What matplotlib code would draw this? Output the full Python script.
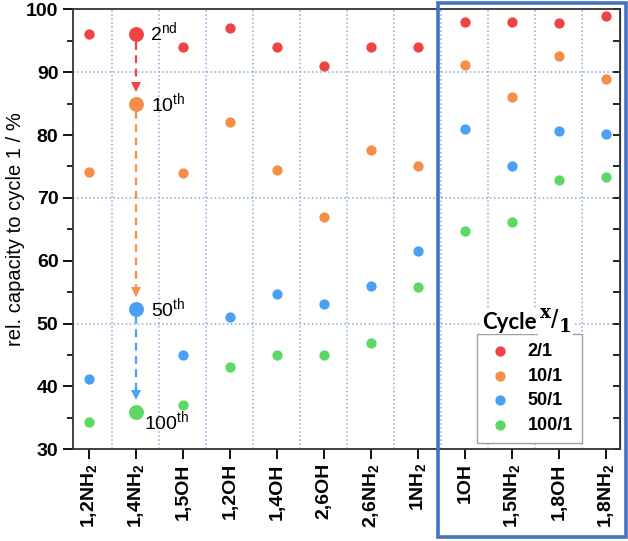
import matplotlib
matplotlib.use('Agg')
import matplotlib.pyplot as plt
from matplotlib.patches import Rectangle
from matplotlib.ticker import MultipleLocator
import numpy as np

plt.rcParams['font.family'] = ['Liberation Sans', 'DejaVu Sans']
plt.rcParams['mathtext.fontset'] = 'custom'
plt.rcParams['mathtext.rm'] = 'Liberation Sans'
plt.rcParams['mathtext.bf'] = 'Liberation Sans:bold'
plt.rcParams['mathtext.default'] = 'regular'

# data
samples = ['1,2NH$\\mathbf{_2}$', '1,4NH$\\mathbf{_2}$', '1,5OH', '1,2OH', '1,4OH', '2,6OH',
           '2,6NH$\\mathbf{_2}$', '1NH$\\mathbf{_2}$', '1OH', '1,5NH$\\mathbf{_2}$', '1,8OH',
           '1,8NH$\\mathbf{_2}$']
cycle2 = [96.0, 96.0, 94.0, 97.0, 94.0, 91.0, 94.0, 94.0, 98.0, 98.0, 97.9, 99.0]
cycle10 = [74.1, 85.0, 74.0, 82.0, 74.4, 67.0, 77.6, 75.1, 91.1, 86.0, 92.6, 88.9]
cycle50 = [41.2, 52.4, 45.0, 51.1, 54.7, 53.1, 56.0, 61.6, 80.9, 75.0, 80.7, 80.2]
cycle100 = [34.4, 35.9, 37.1, 43.1, 45.0, 45.0, 46.9, 55.8, 64.7, 66.1, 72.9, 73.3]
labels = ['2/1', '10/1', '50/1', '100/1']
ordinals = ['2$^{nd}$', '10$^{th}$', '50$^{th}$', '100$^{th}$']
colors = ['#F04343', '#F58F48', '#4AA0F4', '#5DD865']

series = [cycle2, cycle10, cycle50, cycle100]
hl = 1  # highlighted sample (1,4NH2)

fig = plt.figure(figsize=(6.28, 5.41), dpi=100)
ax = fig.add_axes([0.1162, 0.1695, 0.8710, 0.8133])

x = np.arange(len(samples))
for vals, c, lab in zip(series, colors, labels):
    ax.scatter(x, vals, s=55, color=c, label=lab, zorder=3, linewidths=0)
    ax.scatter([hl], [vals[hl]], s=115, color=c, zorder=4, linewidths=0)

# dashed arrows between cycles of the highlighted sample
for k in range(3):
    y0 = series[k][hl]
    y1 = series[k + 1][hl]
    ax.plot([hl, hl], [y0 - 1.2, y1 + 3.0], ls=(0, (3.5, 2.5)), color=colors[k], lw=1.6, zorder=2)
    ax.plot(hl, y1 + 2.7, marker='v', ms=7.5, color=colors[k], mew=0, zorder=2)

offs = [(0.30, 0.4), (0.33, 0.0), (0.33, 0.0), (0.18, -1.4)]
for k, (dx, dy) in enumerate(offs):
    ax.text(hl + dx, series[k][hl] + dy, ordinals[k], fontsize=14, va='center', ha='left', zorder=5)

ax.set_xlim(-0.34, 11.30)
ax.set_ylim(30, 100)
ax.set_xticks(x)
ax.set_xticklabels(samples, rotation=90, fontsize=14, fontweight='bold')
ax.yaxis.set_major_locator(MultipleLocator(10))
ax.yaxis.set_minor_locator(MultipleLocator(5))
ax.xaxis.set_minor_locator(MultipleLocator(1, offset=0.5))
for lab in ax.get_yticklabels():
    lab.set_fontweight('bold')
ax.tick_params(axis='y', which='major', labelsize=14, direction='out', length=7, width=1.3)
ax.tick_params(axis='y', which='minor', direction='out', length=4, width=1.2)
ax.tick_params(axis='x', which='major', direction='out', length=7, width=1.3, pad=3)
ax.tick_params(axis='x', which='minor', length=0)
ax.xaxis.grid(True, which='minor', ls=':', color='#8EA9DB', lw=1.1)
for g in range(30, 101, 20):
    ax.axhline(g, ls=':', color='#8EA9DB', lw=1.1, zorder=0)
ax.set_ylabel('rel. capacity to cycle 1 / %', fontsize=14.5, labelpad=1)

for sp in ax.spines.values():
    sp.set_linewidth(1.3)
    sp.set_color('#333333')

sec = ax.secondary_yaxis('right')
sec.yaxis.set_major_locator(MultipleLocator(5))
sec.tick_params(direction='in', length=5, width=1.2, labelright=False)

leg = ax.legend(loc='upper left', bbox_to_anchor=(0.7386, 0.262), borderaxespad=0,
                prop={'weight': 'bold', 'size': 13}, fancybox=False, framealpha=1,
                edgecolor='#A0A0A0', handlelength=1.6, handletextpad=0.7,
                labelspacing=0.42, borderpad=0.5, scatterpoints=1)
leg.get_frame().set_linewidth(1.0)
leg.set_zorder(6)

ax.text(0.748, 0.289, 'Cycle', transform=ax.transAxes, fontsize=16, fontweight='bold',
        family=['Lato', 'DejaVu Sans'], va='center', ha='left', zorder=7,
        bbox=dict(facecolor='white', edgecolor='none', pad=1))
ax.text(0.852, 0.289, r'$^{\mathbf{x}}/_{\mathbf{1}}$', transform=ax.transAxes, fontsize=19,
        math_fontfamily='dejavuserif', va='center', ha='left', zorder=7,
        bbox=dict(facecolor='white', edgecolor='none', pad=1))

fig.add_artist(Rectangle((0.6967, 0.0074), 0.300, 0.987, transform=fig.transFigure,
                         fill=False, edgecolor='#4472C4', lw=2.6))

fig.savefig('out.png', dpi=100)
